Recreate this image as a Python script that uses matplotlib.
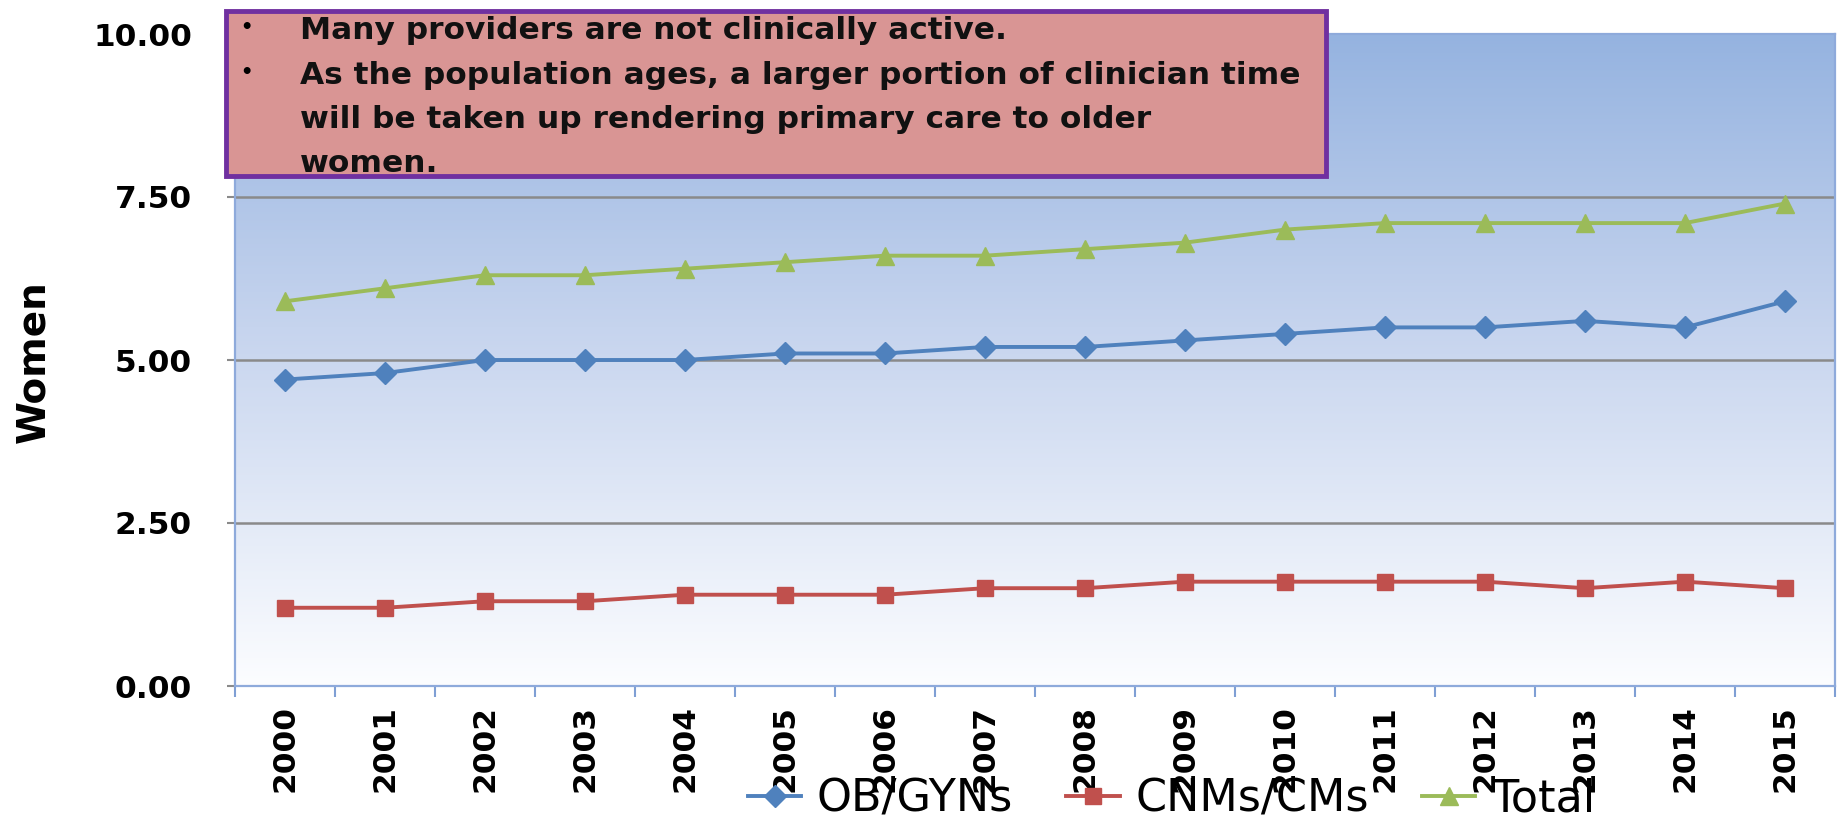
import matplotlib
matplotlib.use("Agg")
import matplotlib.pyplot as plt
import numpy as np
from matplotlib.patches import Rectangle

years = ["2000", "2001", "2002", "2003", "2004", "2005", "2006", "2007",
         "2008", "2009", "2010", "2011", "2012", "2013", "2014", "2015"]
obgyn = [4.7, 4.8, 5.0, 5.0, 5.0, 5.1, 5.1, 5.2, 5.2, 5.3, 5.4, 5.5, 5.5, 5.6, 5.5, 5.9]
cnm = [1.2, 1.2, 1.3, 1.3, 1.4, 1.4, 1.4, 1.5, 1.5, 1.6, 1.6, 1.6, 1.6, 1.5, 1.6, 1.5]
total = [5.9, 6.1, 6.3, 6.3, 6.4, 6.5, 6.6, 6.6, 6.7, 6.8, 7.0, 7.1, 7.1, 7.1, 7.1, 7.4]
series_names = ["OB/GYNs", "CNMs/CMs", "Total"]
yticks = [0.0, 2.5, 5.0, 7.5, 10.0]
ylabel = "Women"
note_lines = [
    ("\u2022", "Many providers are not clinically active."),
    ("\u2022", "As the population ages, a larger portion of clinician time"),
    ("", "will be taken up rendering primary care to older"),
    ("", "women."),
]

W, H = 1839, 825
fig = plt.figure(figsize=(W / 100, H / 100), dpi=100)
ax = fig.add_axes([235 / W, 1 - 686 / H, (1835 - 235) / W, (686 - 34) / H])

# gradient background
top = np.array([0x95, 0xb3, 0xe0]) / 255
mid = np.array([0xc6, 0xd4, 0xee]) / 255
bot = np.array([0xfc, 0xfd, 0xff]) / 255
t = np.linspace(0, 1, 256)[:, None]
grad = np.where(t < 0.45, top + (mid - top) * (t / 0.45), mid + (bot - mid) * ((t - 0.45) / 0.55))
img = grad[:, None, :] * np.ones((1, 2, 1))
ax.imshow(img, extent=[0, 1, 0, 1], transform=ax.transAxes, aspect="auto", zorder=0)

x = np.arange(len(years))
ax.plot(x, obgyn, color="#4f81bd", lw=2.8, marker="D", ms=11, label=series_names[0], zorder=3)
ax.plot(x, cnm, color="#c0504d", lw=2.8, marker="s", ms=12, label=series_names[1], zorder=3)
ax.plot(x, total, color="#9bbb59", lw=2.8, marker="^", ms=13, label=series_names[2], zorder=3)

ax.set_xlim(-0.5, len(years) - 0.5)
ax.set_ylim(0, 10)
ax.set_yticks(yticks)
ax.set_yticklabels([f"{v:.2f}" for v in yticks], fontsize=22.5, fontweight="bold")
for v in yticks[1:-1]:
    ax.axhline(v, color="#8a8a8a", lw=1.8, zorder=1)

ax.set_xticks(x)
ax.set_xticklabels(years, rotation=90, fontsize=22.5, fontweight="bold")
ax.set_xticks(np.arange(-0.5, len(years)), minor=True)
ax.tick_params(axis="x", which="major", length=0, pad=14)
ax.tick_params(axis="x", which="minor", length=8, color="#7f9fd4", width=1.5, direction="out")
ax.tick_params(axis="y", length=6, color="#8a8a8a", width=1.5, pad=25)

for s in ax.spines.values():
    s.set_color("#8eaadb")
    s.set_linewidth(1.6)

fig.text(33 / W, 1 - 362 / H, ylabel, rotation=90, fontsize=28, fontweight="bold",
         ha="center", va="center")

# note box
box = Rectangle((226 / W, 1 - 176 / H), (1326 - 226) / W, (176 - 11) / H,
                transform=fig.transFigure, facecolor="#d99594", edgecolor="#7030a0",
                linewidth=3.5, zorder=5)
fig.add_artist(box)
for i, (b, line) in enumerate(note_lines):
    yb = 1 - (39 + 44.5 * i) / H
    if b:
        fig.text(246 / W, yb + 6 / H, b, fontsize=14, fontweight="bold", ha="center",
                 va="baseline", zorder=6)
    fig.text(300 / W, yb, line, fontsize=22.5, fontweight="bold", ha="left",
             va="baseline", zorder=6, color="#111111")

fig.legend(loc="center", bbox_to_anchor=(0.637, 0.031), ncol=3, frameon=False,
           fontsize=32, handlelength=1.2, columnspacing=1.2, handletextpad=0.35)

fig.savefig("out.png", dpi=100)
